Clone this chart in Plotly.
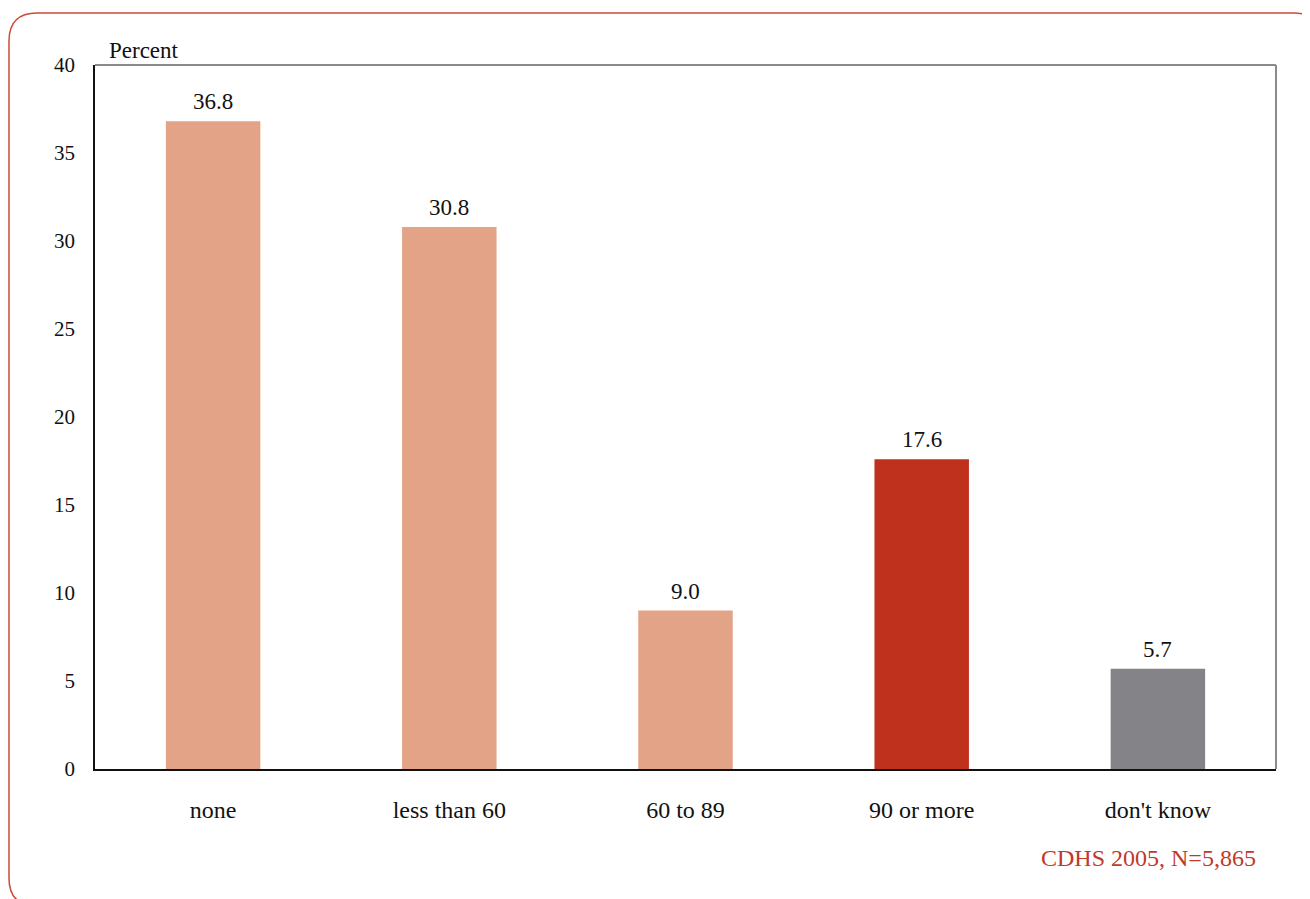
import plotly.graph_objects as go

categories = ["none", "less than 60", "60 to 89", "90 or more", "don't know"]
values = [36.8, 30.8, 9.0, 17.6, 5.7]
value_labels = ["36.8", "30.8", "9.0", "17.6", "5.7"]
bar_colors = ["#E2A386", "#E2A386", "#E2A386", "#BF311C", "#848488"]
y_ticks = [0, 5, 10, 15, 20, 25, 30, 35, 40]
source_text = "CDHS 2005, N=5,865"
y_title = "Percent"

FONT = "Liberation Serif"
W, H = 1310, 899
OFF = 8  # page offset of the figure
L, T = 95 - OFF, 65 - OFF
R = W - (1276 - OFF)
B = H - (769 - OFF)
pw, ph = W - L - R, H - T - B

def px(x):  # page x -> paper
    return (x - OFF - L) / pw

def py(y):  # page y -> paper
    return (H - B - (y - OFF)) / ph

fig = go.Figure()
fig.add_trace(go.Bar(
    x=categories, y=values,
    marker=dict(color=bar_colors, line=dict(width=0)),
    width=0.4, hoverinfo="skip",
))

annotations = []
for c, v, t in zip(categories, values, value_labels):
    annotations.append(dict(x=c, y=v, xref="x", yref="y", text=t, showarrow=False,
                            yanchor="bottom", yshift=5,
                            font=dict(family=FONT, size=23, color="#111")))
annotations.append(dict(x=px(107), y=1, xref="paper", yref="paper", text=y_title,
                        showarrow=False, xanchor="left", yanchor="bottom", yshift=0,
                        font=dict(family=FONT, size=23, color="#111")))
annotations.append(dict(x=px(1258), y=py(858), xref="paper", yref="paper", text=source_text,
                        showarrow=False, xanchor="right", yanchor="middle",
                        font=dict(family=FONT, size=24, color="#C0392B")))

# rounded border in paper coordinates (page pixel positions)
x0, x1, y0, y1, r = 9, 1322, 13, 906, 28
def P(x, y):
    return f"{px(x):.5f},{py(y):.5f}"
path = (f"M {P(x0 + r, y0)} L {P(x1 - r, y0)} Q {P(x1, y0)} {P(x1, y0 + r)} "
        f"L {P(x1, y1 - r)} Q {P(x1, y1)} {P(x1 - r, y1)} "
        f"L {P(x0 + r, y1)} Q {P(x0, y1)} {P(x0, y1 - r)} "
        f"L {P(x0, y0 + r)} Q {P(x0, y0)} {P(x0 + r, y0)} Z")

shapes = [
    dict(type="path", path=path, xref="paper", yref="paper",
         line=dict(color="#CC4B37", width=1.5), layer="below"),
    dict(type="line", xref="paper", yref="paper", x0=0, x1=1, y0=1, y1=1,
         line=dict(color="#8a8a8a", width=2)),
    dict(type="line", xref="paper", yref="paper", x0=1, x1=1, y0=0, y1=1,
         line=dict(color="#8a8a8a", width=2)),
]

fig.update_layout(
    width=W, height=H,
    margin=dict(l=L, r=R, t=T, b=B),
    paper_bgcolor="white", plot_bgcolor="white",
    showlegend=False,
    font=dict(family=FONT, size=22, color="#111"),
    annotations=annotations, shapes=shapes,
    bargap=0.6,
)
fig.update_xaxes(showline=True, linecolor="#111", linewidth=1.5, showgrid=False,
                 ticks="outside", ticklen=18, tickcolor="rgba(0,0,0,0)",
                 tickfont=dict(family=FONT, size=24, color="#111"), fixedrange=True)
fig.update_yaxes(range=[0, 40], tickvals=y_ticks, showline=True, linecolor="#111",
                 linewidth=1.5, showgrid=False, zeroline=False,
                 ticks="outside", ticklen=14, tickcolor="rgba(0,0,0,0)",
                 tickfont=dict(family=FONT, size=21, color="#111"), fixedrange=True)

fig.write_html("out.html")
